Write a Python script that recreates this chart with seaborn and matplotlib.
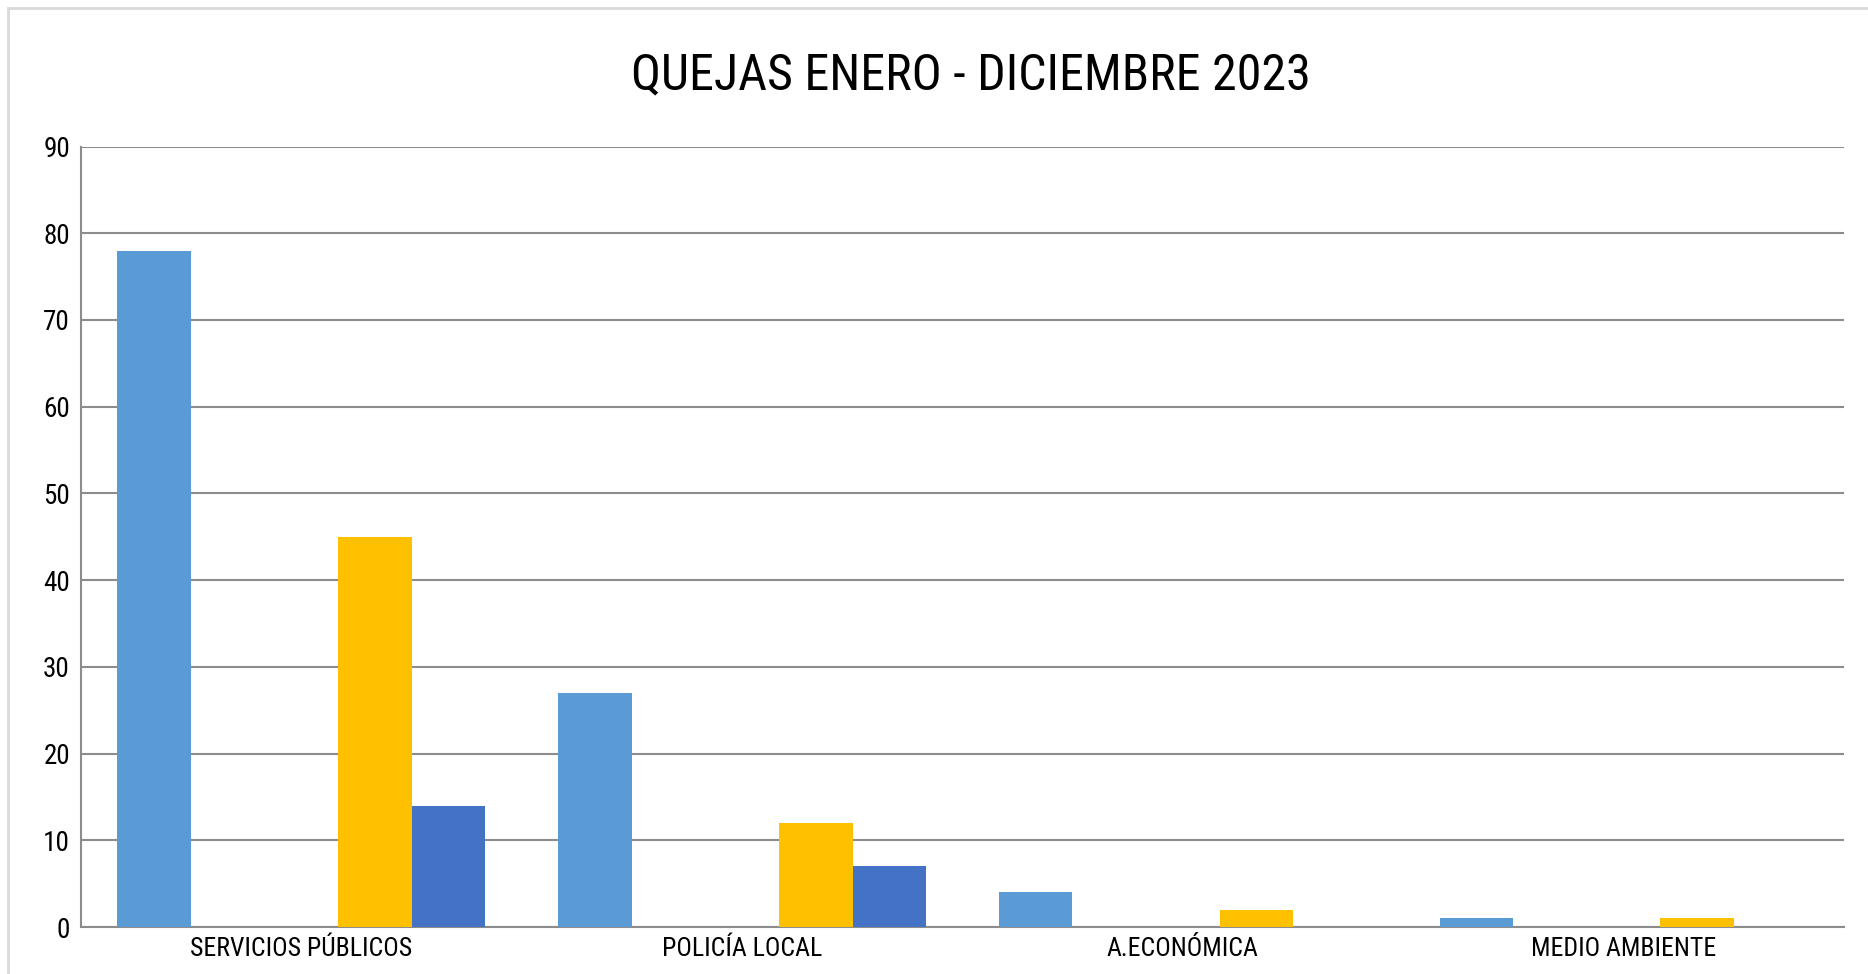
import numpy as np
import pandas as pd
import seaborn as sns
import matplotlib.pyplot as plt
from matplotlib.patches import Rectangle

categorias = ["SERVICIOS PÚBLICOS", "POLICÍA LOCAL", "A.ECONÓMICA", "MEDIO AMBIENTE"]
series = ["Serie1", "Serie2", "Serie3", "Serie4", "Serie5"]
serie1 = [78, 27, 4, 1]
serie2 = [0, 0, 0, 0]
serie3 = [0, 0, 0, 0]
serie4 = [45, 12, 2, 1]
serie5 = [14, 7, 0, 0]
colores = ["#5B9BD5", "#ED7D31", "#A5A5A5", "#FFC000", "#4472C4"]

rows = []
for nombre, vals in zip(series, [serie1, serie2, serie3, serie4, serie5]):
    for cat, v in zip(categorias, vals):
        rows.append({"categoria": cat, "serie": nombre, "valor": v})
df = pd.DataFrame(rows)

sns.set_style("white")
plt.rcParams['font.family'] = ['Roboto Condensed', 'IBM Plex Sans Condensed', 'Pathway Gothic One', 'DejaVu Sans']

fig = plt.figure(figsize=(18.68, 9.74), dpi=100)
ax = fig.add_axes([81 / 1868, 1 - 927 / 974, (1844 - 81) / 1868, (927 - 146.5) / 974])

sns.barplot(data=df, x="categoria", y="valor", hue="serie", order=categorias,
            hue_order=series, palette=colores, width=0.835, linewidth=0,
            saturation=1, legend=False, ax=ax, zorder=3)

ax.set_ylim(0, 90)
ax.set_yticks(range(0, 91, 10))
ax.set_xlim(-0.5, 3.5)
ax.set_xlabel("")
ax.set_ylabel("")
ax.yaxis.grid(True, color="#8C8C8C", linewidth=1.5, zorder=0)
ax.xaxis.grid(False)
ax.set_axisbelow(True)
for s in ["top", "right"]:
    ax.spines[s].set_visible(False)
ax.spines["left"].set_color("#8C8C8C")
ax.spines["bottom"].set_color("#8C8C8C")
ax.spines["left"].set_linewidth(1.5)
ax.spines["bottom"].set_linewidth(1.5)
ax.tick_params(axis="y", length=0, labelsize=19.5, colors="black", pad=8)
ax.tick_params(axis="x", length=0, labelsize=18.5, colors="black", pad=7)

fig.text(971 / 1868, 1 - 75 / 974, "QUEJAS ENERO - DICIEMBRE 2023", ha="center", va="center",
         fontsize=36, color="black")

# marco del gráfico
fig.patches.append(Rectangle((8 / 1868, -0.1), 1.2, 1 - 8 / 974 + 0.1, transform=fig.transFigure,
                             fill=False, edgecolor="#D9D9D9", linewidth=2))

fig.savefig("out.png", dpi=100)
